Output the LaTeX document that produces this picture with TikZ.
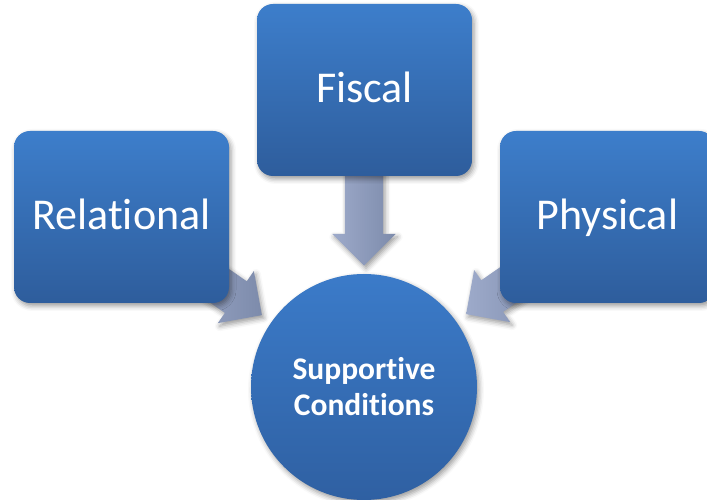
\documentclass[tikz,border=0pt]{standalone}
\usepackage{fontspec}
\setmainfont{Carlito}[Ligatures=NoCommon]
\usetikzlibrary{shapes.arrows,shadows.blur}
\definecolor{boxtop}{HTML}{3D7ECB}
\definecolor{boxbot}{HTML}{2E5D9C}
\definecolor{circtop}{HTML}{3B7BC9}
\definecolor{circbot}{HTML}{2F60A2}
\definecolor{arrlight}{HTML}{9DAACA}
\definecolor{arrdark}{HTML}{7D8BAB}
\begin{document}
\begin{tikzpicture}[x=1pt,y=1pt,
  softshadow/.style={blur shadow={shadow xshift=2pt, shadow yshift=-3pt, shadow blur radius=5pt, shadow opacity=40}},
  catbox/.style={rectangle, rounded corners=16pt, minimum width=215pt, minimum height=172pt, inner sep=0pt,
    text height=32pt, text depth=6pt,
    top color=boxtop, bottom color=boxbot, text=white, font=\fontsize{44}{50}\selectfont, softshadow},
  hub/.style={circle, minimum size=226pt, inner sep=0pt, top color=circtop, bottom color=circbot,
    text=white, align=center, font=\bfseries\fontsize{31.5}{36}\selectfont, softshadow},
  blockarrow/.style={single arrow, single arrow head extend=12.5pt, single arrow tip angle=90,
    minimum width=63pt, minimum height=100pt, inner xsep=0pt, inner ysep=19pt,
    left color=arrlight, right color=arrdark, softshadow}
]
\useasboundingbox (0,0) rectangle (707,500);
% block arrows (drawn first, tails hidden under the boxes)
\node[blockarrow, rotate=-90] (afis) at (364,294) {};
\node[blockarrow, rotate=-34.7] (arel) at (212.9,218.8) {};
\node[blockarrow, rotate=214.7] (aphy) at (515.1,219.8) {};
% boxes
\node[catbox] (rel) at (121.5,283) {Relational};
\node[catbox] (fis) at (364.5,410) {Fiscal};
\node[catbox] (phy) at (607.5,283) {Physical};
% hub
\node[hub] (sc) at (364,113) {Supportive\\Conditions};
\end{tikzpicture}
\end{document}
